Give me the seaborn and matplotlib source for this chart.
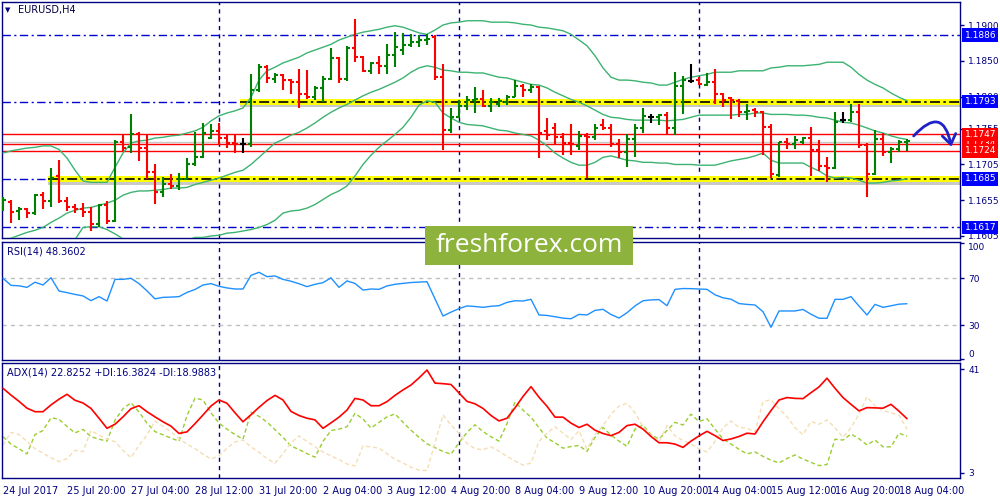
import numpy as np
import pandas as pd
import matplotlib
matplotlib.use("Agg")
import matplotlib.pyplot as plt
import matplotlib.patheffects as pe
from matplotlib.patches import Rectangle, FancyArrowPatch
from matplotlib.transforms import blended_transform_factory
import seaborn as sns

# ---------------- data (EURUSD H4) ----------------
open_ = [1.1648, 1.1653, 1.1640, 1.1643, 1.1637, 1.1662, 1.1654, 1.1689, 1.1654, 1.1646,
         1.1643, 1.1639, 1.1622, 1.1648, 1.1626, 1.1736, 1.1729, 1.1748, 1.1728, 1.1695,
         1.1667, 1.1678, 1.1675, 1.1685, 1.1706, 1.1716, 1.1742, 1.1752, 1.1742, 1.1735,
         1.1734, 1.1734, 1.1809, 1.1841, 1.1825, 1.1830, 1.1823, 1.1820, 1.1804, 1.1799,
         1.1812, 1.1825, 1.1854, 1.1825, 1.1868, 1.1855, 1.1836, 1.1847, 1.1843, 1.1858,
         1.1865, 1.1872, 1.1876, 1.1879, 1.1883, 1.1827, 1.1753, 1.1771, 1.1787, 1.1795,
         1.1797, 1.1787, 1.1790, 1.1792, 1.1799, 1.1815, 1.1809, 1.1813, 1.1752, 1.1756,
         1.1743, 1.1735, 1.1731, 1.1745, 1.1743, 1.1760, 1.1756, 1.1734, 1.1722, 1.1741,
         1.1756, 1.1771, 1.1771, 1.1774, 1.1756, 1.1815, 1.1822, 1.1823, 1.1816, 1.1820,
         1.1804, 1.1798, 1.1794, 1.1778, 1.1781, 1.1778, 1.1757, 1.1690, 1.1736, 1.1734,
         1.1736, 1.1742, 1.1725, 1.1703, 1.1700, 1.1767, 1.1767, 1.1778, 1.1732, 1.1692,
         1.1741, 1.1722, 1.1727, 1.1736]
high = [1.1660, 1.1655, 1.1646, 1.1644, 1.1664, 1.1667, 1.1700, 1.1711, 1.1660, 1.1650,
        1.1651, 1.1646, 1.1650, 1.1654, 1.1739, 1.1748, 1.1776, 1.1750, 1.1746, 1.1706,
        1.1688, 1.1692, 1.1693, 1.1714, 1.1750, 1.1763, 1.1762, 1.1763, 1.1746, 1.1746,
        1.1742, 1.1832, 1.1846, 1.1844, 1.1833, 1.1831, 1.1824, 1.1839, 1.1837, 1.1815,
        1.1829, 1.1868, 1.1855, 1.1871, 1.1908, 1.1857, 1.1848, 1.1857, 1.1873, 1.1890,
        1.1889, 1.1887, 1.1886, 1.1887, 1.1886, 1.1846, 1.1784, 1.1795, 1.1801, 1.1813,
        1.1809, 1.1798, 1.1798, 1.1802, 1.1823, 1.1817, 1.1817, 1.1815, 1.1770, 1.1763,
        1.1749, 1.1762, 1.1752, 1.1749, 1.1762, 1.1769, 1.1762, 1.1741, 1.1748, 1.1762,
        1.1784, 1.1776, 1.1776, 1.1778, 1.1834, 1.1829, 1.1846, 1.1827, 1.1833, 1.1839,
        1.1805, 1.1799, 1.1797, 1.1790, 1.1784, 1.1780, 1.1762, 1.1736, 1.1742, 1.1745,
        1.1743, 1.1757, 1.1739, 1.1716, 1.1778, 1.1778, 1.1790, 1.1790, 1.1735, 1.1753,
        1.1749, 1.1729, 1.1739, 1.1741]
low = [1.1640, 1.1623, 1.1628, 1.1630, 1.1634, 1.1643, 1.1646, 1.1651, 1.1640, 1.1637,
       1.1632, 1.1612, 1.1618, 1.1622, 1.1625, 1.1724, 1.1721, 1.1710, 1.1685, 1.1650,
       1.1660, 1.1671, 1.1669, 1.1685, 1.1703, 1.1714, 1.1741, 1.1734, 1.1728, 1.1721,
       1.1721, 1.1729, 1.1806, 1.1819, 1.1819, 1.1809, 1.1804, 1.1784, 1.1797, 1.1795,
       1.1792, 1.1823, 1.1819, 1.1822, 1.1848, 1.1834, 1.1832, 1.1832, 1.1832, 1.1841,
       1.1858, 1.1869, 1.1869, 1.1872, 1.1823, 1.1725, 1.1749, 1.1770, 1.1781, 1.1777,
       1.1786, 1.1778, 1.1786, 1.1788, 1.1799, 1.1799, 1.1805, 1.1714, 1.1739, 1.1734,
       1.1718, 1.1718, 1.1725, 1.1686, 1.1739, 1.1753, 1.1729, 1.1714, 1.1702, 1.1716,
       1.1749, 1.1763, 1.1760, 1.1748, 1.1746, 1.1776, 1.1819, 1.1816, 1.1815, 1.1790,
       1.1786, 1.1769, 1.1771, 1.1767, 1.1771, 1.1718, 1.1686, 1.1688, 1.1727, 1.1727,
       1.1734, 1.1689, 1.1696, 1.1681, 1.1699, 1.1763, 1.1764, 1.1728, 1.1660, 1.1690,
       1.1717, 1.1707, 1.1722, 1.1724]
close = [1.1655, 1.1639, 1.1643, 1.1637, 1.1662, 1.1654, 1.1686, 1.1654, 1.1646, 1.1643,
         1.1639, 1.1622, 1.1648, 1.1626, 1.1736, 1.1728, 1.1748, 1.1728, 1.1695, 1.1667,
         1.1678, 1.1675, 1.1685, 1.1706, 1.1716, 1.1749, 1.1752, 1.1742, 1.1735, 1.1734,
         1.1734, 1.1809, 1.1841, 1.1826, 1.1830, 1.1823, 1.1820, 1.1804, 1.1799, 1.1812,
         1.1825, 1.1854, 1.1825, 1.1868, 1.1855, 1.1836, 1.1847, 1.1843, 1.1858, 1.1869,
         1.1872, 1.1876, 1.1879, 1.1880, 1.1827, 1.1753, 1.1771, 1.1787, 1.1795, 1.1797,
         1.1787, 1.1792, 1.1794, 1.1799, 1.1815, 1.1809, 1.1813, 1.1749, 1.1746, 1.1743,
         1.1735, 1.1734, 1.1745, 1.1743, 1.1756, 1.1756, 1.1734, 1.1722, 1.1741, 1.1756,
         1.1773, 1.1771, 1.1774, 1.1756, 1.1815, 1.1823, 1.1822, 1.1817, 1.1820, 1.1804,
         1.1795, 1.1795, 1.1778, 1.1780, 1.1778, 1.1757, 1.1692, 1.1736, 1.1734, 1.1739,
         1.1742, 1.1725, 1.1703, 1.1700, 1.1764, 1.1767, 1.1778, 1.1732, 1.1692, 1.1741,
         1.1722, 1.1727, 1.1736, 1.1738]

bb_upper = [1.1721, 1.1724, 1.1726, 1.1728, 1.1729, 1.1731, 1.1731, 1.1726, 1.1714, 1.1697,
            1.1682, 1.1680, 1.1680, 1.1680, 1.1701, 1.1721, 1.1735, 1.1738, 1.1739, 1.1742,
            1.1743, 1.1745, 1.1746, 1.1749, 1.1752, 1.1757, 1.1766, 1.1773, 1.1777, 1.1780,
            1.1784, 1.1799, 1.1823, 1.1836, 1.1841, 1.1847, 1.1851, 1.1855, 1.1861, 1.1865,
            1.1869, 1.1873, 1.1879, 1.1883, 1.1887, 1.1890, 1.1892, 1.1894, 1.1897, 1.1899,
            1.1897, 1.1893, 1.1889, 1.1887, 1.1893, 1.1900, 1.1903, 1.1904, 1.1906, 1.1906,
            1.1906, 1.1904, 1.1904, 1.1904, 1.1903, 1.1901, 1.1900, 1.1897, 1.1896, 1.1894,
            1.1892, 1.1887, 1.1879, 1.1871, 1.1857, 1.1840, 1.1827, 1.1823, 1.1823, 1.1822,
            1.1820, 1.1819, 1.1816, 1.1816, 1.1820, 1.1824, 1.1827, 1.1829, 1.1831, 1.1834,
            1.1834, 1.1834, 1.1836, 1.1836, 1.1836, 1.1836, 1.1840, 1.1841, 1.1843, 1.1843,
            1.1843, 1.1844, 1.1845, 1.1848, 1.1848, 1.1848, 1.1841, 1.1831, 1.1823, 1.1817,
            1.1812, 1.1805, 1.1799, 1.1794]
bb_middle = [1.1599, 1.1602, 1.1606, 1.1610, 1.1613, 1.1617, 1.1624, 1.1630, 1.1637, 1.1641,
             1.1644, 1.1645, 1.1648, 1.1651, 1.1655, 1.1662, 1.1666, 1.1668, 1.1668, 1.1669,
             1.1670, 1.1672, 1.1672, 1.1673, 1.1677, 1.1680, 1.1683, 1.1686, 1.1690, 1.1694,
             1.1697, 1.1705, 1.1715, 1.1725, 1.1735, 1.1740, 1.1746, 1.1750, 1.1756, 1.1763,
             1.1771, 1.1778, 1.1784, 1.1789, 1.1795, 1.1801, 1.1806, 1.1810, 1.1815, 1.1820,
             1.1826, 1.1834, 1.1840, 1.1843, 1.1841, 1.1837, 1.1836, 1.1834, 1.1834, 1.1833,
             1.1833, 1.1830, 1.1827, 1.1826, 1.1823, 1.1820, 1.1817, 1.1816, 1.1812, 1.1806,
             1.1801, 1.1796, 1.1792, 1.1787, 1.1781, 1.1775, 1.1771, 1.1770, 1.1768, 1.1767,
             1.1767, 1.1767, 1.1767, 1.1766, 1.1767, 1.1768, 1.1771, 1.1774, 1.1774, 1.1774,
             1.1774, 1.1774, 1.1775, 1.1775, 1.1777, 1.1777, 1.1775, 1.1775, 1.1775, 1.1774,
             1.1774, 1.1773, 1.1771, 1.1770, 1.1767, 1.1764, 1.1763, 1.1760, 1.1756, 1.1752,
             1.1749, 1.1745, 1.1742, 1.1740]
bb_lower = [1.1477, 1.1480, 1.1486, 1.1493, 1.1497, 1.1504, 1.1518, 1.1533, 1.1585, 1.1600,
            1.1617, 1.1618, 1.1618, 1.1614, 1.1608, 1.1601, 1.1598, 1.1598, 1.1596, 1.1596,
            1.1598, 1.1599, 1.1598, 1.1599, 1.1603, 1.1603, 1.1605, 1.1606, 1.1609, 1.1610,
            1.1612, 1.1614, 1.1617, 1.1621, 1.1627, 1.1637, 1.1640, 1.1641, 1.1644, 1.1649,
            1.1656, 1.1663, 1.1668, 1.1675, 1.1689, 1.1705, 1.1718, 1.1729, 1.1738, 1.1747,
            1.1757, 1.1771, 1.1788, 1.1794, 1.1792, 1.1777, 1.1770, 1.1764, 1.1761, 1.1760,
            1.1759, 1.1756, 1.1753, 1.1752, 1.1749, 1.1747, 1.1745, 1.1739, 1.1731, 1.1721,
            1.1714, 1.1708, 1.1704, 1.1704, 1.1708, 1.1715, 1.1717, 1.1714, 1.1711, 1.1710,
            1.1708, 1.1708, 1.1707, 1.1707, 1.1705, 1.1705, 1.1705, 1.1704, 1.1704, 1.1704,
            1.1707, 1.1710, 1.1712, 1.1714, 1.1717, 1.1721, 1.1711, 1.1707, 1.1707, 1.1707,
            1.1707, 1.1701, 1.1696, 1.1689, 1.1686, 1.1687, 1.1686, 1.1683, 1.1679, 1.1679,
            1.1680, 1.1682, 1.1683, 1.1685]

rsi = [70.0, 64.0, 63.6, 62.3, 66.7, 64.3, 70.5, 59.2, 57.8, 56.3,
       55.0, 51.0, 54.4, 50.7, 69.1, 69.1, 70.0, 65.5, 59.3, 52.5,
       53.8, 54.0, 54.4, 58.0, 60.5, 64.3, 65.5, 63.2, 61.8, 60.9,
       60.9, 72.5, 75.1, 71.4, 72.0, 69.1, 67.5, 65.4, 62.9, 64.9,
       66.3, 70.4, 62.3, 67.8, 65.6, 60.0, 60.9, 60.6, 63.5, 64.9,
       65.7, 66.4, 66.8, 67.1, 52.5, 37.9, 41.2, 44.2, 46.5, 46.0,
       45.3, 46.2, 46.7, 49.5, 50.9, 50.7, 52.1, 38.8, 38.4, 37.3,
       36.1, 35.6, 39.3, 38.8, 42.7, 43.6, 39.2, 36.2, 40.7, 46.5,
       50.9, 51.6, 51.9, 46.7, 60.6, 61.3, 61.2, 60.9, 60.6, 56.0,
       53.4, 52.2, 48.5, 47.8, 47.3, 41.6, 28.3, 42.2, 42.2, 42.2,
       43.5, 39.4, 36.0, 36.0, 52.1, 52.1, 54.4, 46.4, 38.8, 47.8,
       45.3, 46.6, 48.0, 48.36]
adx = [34.0, 31.5, 29.2, 26.7, 25.4, 25.4, 27.9, 30.0, 31.8, 29.6,
       28.6, 26.6, 23.0, 19.3, 20.8, 23.5, 26.5, 27.6, 25.4, 23.5,
       21.7, 20.1, 17.4, 18.0, 21.0, 24.2, 27.5, 29.7, 28.5, 25.0,
       21.7, 24.3, 27.0, 29.5, 31.4, 29.7, 25.5, 24.0, 23.0, 22.4,
       19.3, 21.3, 23.4, 26.0, 30.3, 29.7, 27.6, 27.6, 29.1, 31.4,
       33.4, 35.2, 37.8, 40.7, 35.9, 35.7, 35.4, 32.3, 29.2, 28.3,
       26.6, 24.0, 22.0, 23.0, 26.8, 31.0, 34.6, 30.7, 27.4, 23.4,
       23.4, 21.2, 19.6, 20.8, 18.6, 17.4, 16.6, 17.8, 20.3, 20.8,
       19.0, 16.3, 14.0, 14.0, 13.5, 12.3, 14.6, 16.5, 18.2, 16.6,
       14.8, 15.4, 16.3, 17.5, 17.2, 21.7, 25.8, 29.7, 30.6, 30.3,
       30.2, 32.4, 34.5, 37.7, 34.0, 30.6, 28.1, 25.7, 26.9, 26.8,
       26.7, 28.1, 25.6, 22.83]
plus_di = [16.2, 13.5, 11.8, 9.9, 17.0, 18.5, 23.2, 22.6, 20.0, 17.6,
           18.9, 16.2, 15.3, 14.6, 22.3, 26.5, 28.7, 25.3, 21.2, 18.1,
           16.9, 15.7, 14.6, 24.0, 30.4, 29.7, 25.0, 21.2, 19.0, 17.0,
           15.3, 25.2, 23.7, 21.6, 18.8, 16.0, 12.8, 11.5, 10.0, 8.7,
           14.5, 18.5, 19.0, 19.9, 24.8, 22.7, 19.4, 21.5, 23.5, 24.6,
           21.5, 18.6, 16.0, 13.6, 12.2, 10.8, 9.8, 14.0, 17.8, 20.6,
           18.1, 16.2, 14.6, 21.0, 29.0, 26.0, 23.4, 19.5, 15.7, 14.0,
           12.0, 12.6, 13.0, 10.8, 16.0, 19.6, 16.8, 14.6, 12.7, 19.0,
           20.5, 17.0, 15.3, 18.5, 21.5, 20.5, 24.5, 21.8, 22.8, 19.0,
           15.4, 13.5, 11.6, 9.9, 10.6, 9.0, 7.6, 6.6, 8.2, 9.5,
           8.0, 6.8, 5.6, 6.0, 15.3, 15.0, 17.2, 15.5, 13.2, 15.0,
           12.5, 12.5, 17.5, 16.38]
minus_di = [13.2, 17.8, 17.0, 14.5, 11.8, 10.2, 8.5, 7.1, 8.2, 11.2,
            10.7, 18.5, 16.8, 15.3, 14.4, 11.2, 8.5, 13.0, 16.9, 22.0,
            20.0, 18.0, 15.5, 13.5, 11.8, 9.8, 8.0, 9.2, 12.0, 14.3,
            15.0, 12.5, 10.5, 8.2, 6.5, 10.0, 14.0, 16.5, 14.5, 12.5,
            10.6, 9.2, 7.8, 6.2, 5.5, 12.8, 12.5, 12.0, 10.0, 7.9,
            6.6, 5.0, 3.9, 3.8, 14.0, 24.2, 20.5, 17.5, 13.8, 11.8,
            11.4, 12.5, 10.9, 9.0, 7.3, 5.8, 6.5, 14.5, 17.5, 19.9,
            17.5, 15.2, 18.4, 11.6, 17.0, 20.3, 24.4, 27.5, 28.5, 25.0,
            19.9, 16.8, 14.4, 20.3, 16.5, 14.8, 13.5, 11.8, 10.6, 14.5,
            19.5, 22.0, 19.6, 19.3, 18.0, 29.1, 29.8, 26.5, 23.6, 19.5,
            17.0, 21.8, 20.8, 22.4, 19.5, 16.0, 19.5, 24.5, 30.9, 27.5,
            25.8, 25.0, 24.2, 18.99]

date_labels = ["24 Jul 2017", "25 Jul 20:00", "27 Jul 04:00", "28 Jul 12:00",
               "31 Jul 20:00", "2 Aug 04:00", "3 Aug 12:00", "4 Aug 20:00",
               "8 Aug 04:00", "9 Aug 12:00", "10 Aug 20:00", "14 Aug 04:00",
               "15 Aug 12:00", "16 Aug 20:00", "18 Aug 04:00"]
week_separators = [27, 57, 87]

price_ticks = [1.1900, 1.1850, 1.1800, 1.1755, 1.1705, 1.1655, 1.1605]
blue_levels = [1.1886, 1.1793, 1.1685, 1.1617]
zone_levels = [1.1793, 1.1685]
zone_starts = [29.6, 5.6]
red_levels = [1.1734, 1.1747, 1.1724]
bid_level = 1.1737
arrow_from = (113.6, 1.1742)
arrow_to = (118.6, 1.1726)

# ---------------- style ----------------
sns.set_theme(style="white")
plt.rcParams["font.family"] = ["DejaVu Sans"]
NAVY = "#000080"
BLUE = "#0000CD"
GREEN = "#008000"
RED = "#FF0000"
BBG = "#3CB371"
FS = 7
FSY = 6.5

n = len(close)
df = pd.DataFrame({"idx": np.arange(n), "open": open_, "high": high, "low": low,
                   "close": close, "bb_upper": bb_upper, "bb_middle": bb_middle,
                   "bb_lower": bb_lower, "rsi": rsi, "adx": adx,
                   "plus_di": plus_di, "minus_di": minus_di})

fig = plt.figure(figsize=(10, 5), dpi=100)
fig.patch.set_facecolor("white")
W, H = 1000.0, 500.0


def px_axes(l, t, r, b):
    return fig.add_axes([l / W, 1 - b / H, (r - l) / W, (b - t) / H])


ax = px_axes(2, 2, 960, 238)
ax_rsi = px_axes(2, 242, 960, 359.5)
ax_adx = px_axes(2, 362.7, 960, 478)
XLIM = (-0.125, 119.625)

for a in (ax, ax_rsi, ax_adx):
    a.set_facecolor("white")
    a.set_xlim(*XLIM)
    for s in a.spines.values():
        s.set_color(NAVY)
        s.set_linewidth(1.0)
    for s in week_separators:
        a.axvline(s, color=NAVY, lw=1.0, ls=(0, (3, 3)), zorder=1)

# ---------------- main panel ----------------
ax.set_ylim(1.16022, 1.19322)
for lvl in blue_levels:
    ax.axhline(lvl, color=BLUE, lw=1.0, ls=(0, (6, 2.5, 1.5, 2.5)), zorder=1)
for lvl, st in zip(zone_levels, zone_starts):
    ax.hlines(lvl, st, XLIM[1], colors="#FFFF00", lw=4.3, zorder=2,
              path_effects=[pe.SimpleLineShadow(offset=(0.3, -2.0), shadow_color="#888888", alpha=0.45),
                            pe.Normal()])
    ax.hlines(lvl, st, XLIM[1], colors="black", lw=1.2, linestyles=[(0, (6, 2, 1.5, 2))], zorder=2.1)
ax.axhline(bid_level, color="#C8C8C8", lw=1.0, zorder=1.5)
for lvl in red_levels:
    ax.axhline(lvl, color=RED, lw=1.0, zorder=1.6)

for col in ("bb_upper", "bb_middle", "bb_lower"):
    sns.lineplot(data=df, x="idx", y=col, ax=ax, color=BBG, lw=1.0,
                 estimator=None, sort=False, zorder=3)

o = np.array(open_); c = np.array(close)
cols = np.where(c > o, GREEN, np.where(c < o, RED, "black"))
ax.vlines(df["idx"], df["low"], df["high"], colors=cols, lw=1.5, zorder=4)
ax.hlines(df["open"], df["idx"] - 0.42, df["idx"], colors=cols, lw=1.5, zorder=4)
ax.hlines(df["close"], df["idx"], df["idx"] + 0.42, colors=cols, lw=1.5, zorder=4)

arr = FancyArrowPatch(arrow_from, arrow_to, connectionstyle="arc3,rad=-1.05",
                      arrowstyle="->,head_length=0.5,head_width=0.35",
                      mutation_scale=14, color="#1E22C8", lw=2.0, zorder=6)
ax.add_patch(arr)

ax.yaxis.tick_right()
ax.set_yticks(price_ticks)
ax.set_yticklabels([f"{v:.4f}" for v in price_ticks])
ax.set_xticks([])
ax.tick_params(axis="y", direction="out", length=3, width=1, color=NAVY,
               labelcolor=NAVY, labelsize=FSY, pad=3)
ax.set_xlabel(""); ax.set_ylabel("")

trans = blended_transform_factory(ax.transAxes, ax.transData)
xb = 1 + 4.5 / 958
for lvl in blue_levels:
    ax.text(xb, lvl, f"{lvl:.4f}", transform=trans, ha="left", va="center", fontsize=FSY,
            color="white", clip_on=False, zorder=10,
            bbox=dict(boxstyle="square,pad=0.25", fc="#0000FF", ec="none"))
for lvl in red_levels:
    ax.text(xb, lvl, f"{lvl:.4f}", transform=trans, ha="left", va="center", fontsize=FSY,
            color="white", clip_on=False, zorder=10,
            bbox=dict(boxstyle="square,pad=0.25", fc=RED, ec="none"))

# ---------------- RSI panel ----------------
ax_rsi.set_ylim(0.9, 100.9)
for lvl in (70, 30):
    ax_rsi.axhline(lvl, color="#C0C0C0", lw=1.0, ls=(0, (3, 3)), zorder=1)
sns.lineplot(data=df, x="idx", y="rsi", ax=ax_rsi, color="#1E90FF", lw=1.0,
             estimator=None, sort=False, zorder=3)
ax_rsi.yaxis.tick_right()
ax_rsi.set_yticks([100.1, 70, 30, 1.0])
ax_rsi.set_yticklabels(["100", "70", "30", "0"])
ax_rsi.set_xticks([])
ax_rsi.tick_params(axis="y", direction="out", length=3, width=1, color=NAVY,
                   labelcolor=NAVY, labelsize=FSY, pad=3)
lbls = ax_rsi.get_yticklabels()
lbls[0].set_va("top"); lbls[-1].set_va("bottom")
ax_rsi.set_xlabel(""); ax_rsi.set_ylabel("")

# ---------------- ADX panel ----------------
ax_adx.set_ylim(1.05, 43.4)
sns.lineplot(data=df, x="idx", y="plus_di", ax=ax_adx, color="#9ACD32", lw=1.0,
             linestyle=(0, (3, 2)), estimator=None, sort=False, zorder=2)
sns.lineplot(data=df, x="idx", y="minus_di", ax=ax_adx, color="#F5DEB3", lw=1.0,
             linestyle=(0, (3, 2)), estimator=None, sort=False, zorder=2)
sns.lineplot(data=df, x="idx", y="adx", ax=ax_adx, color=RED, lw=1.2,
             estimator=None, sort=False, zorder=3)
ax_adx.yaxis.tick_right()
ax_adx.set_yticks([41, 3])
ax_adx.set_yticklabels(["41", "3"])
ax_adx.set_xticks(np.arange(0, n, 8))
ax_adx.set_xticklabels(date_labels, ha="left")
ax_adx.tick_params(axis="y", direction="out", length=3, width=1, color=NAVY,
                   labelcolor=NAVY, labelsize=FSY, pad=3)
ax_adx.tick_params(axis="x", direction="out", length=4, width=1, color=NAVY,
                   labelcolor=NAVY, labelsize=FS, pad=2)
ax_adx.set_xlabel(""); ax_adx.set_ylabel("")

# ---------------- titles ----------------
fig.text(5 / W, 1 - 10 / H, "\u25BC", fontsize=5, color=NAVY, ha="left", va="center")
fig.text(18 / W, 1 - 10.5 / H, "EURUSD,H4", fontsize=FS, color="#000040", ha="left", va="center")
fig.text(7 / W, 1 - 252 / H, "RSI(14) 48.3602", fontsize=FS, color=NAVY, ha="left", va="center")
fig.text(7 / W, 1 - 372.5 / H, "ADX(14) 22.8252 +DI:16.3824 -DI:18.9883", fontsize=FS,
         color=NAVY, ha="left", va="center")

fig.add_artist(Rectangle((425 / W, 1 - 265 / H), 208 / W, 39 / H, transform=fig.transFigure,
                         fc="#8DB33C", ec="none", zorder=5))
fig.text(529 / W, 1 - 246 / H, "freshforex.com", fontsize=19, color="white",
         family=["Open Sans", "DejaVu Sans"], ha="center", va="center", zorder=6)

fig.savefig("out.png", dpi=100, facecolor="white")
